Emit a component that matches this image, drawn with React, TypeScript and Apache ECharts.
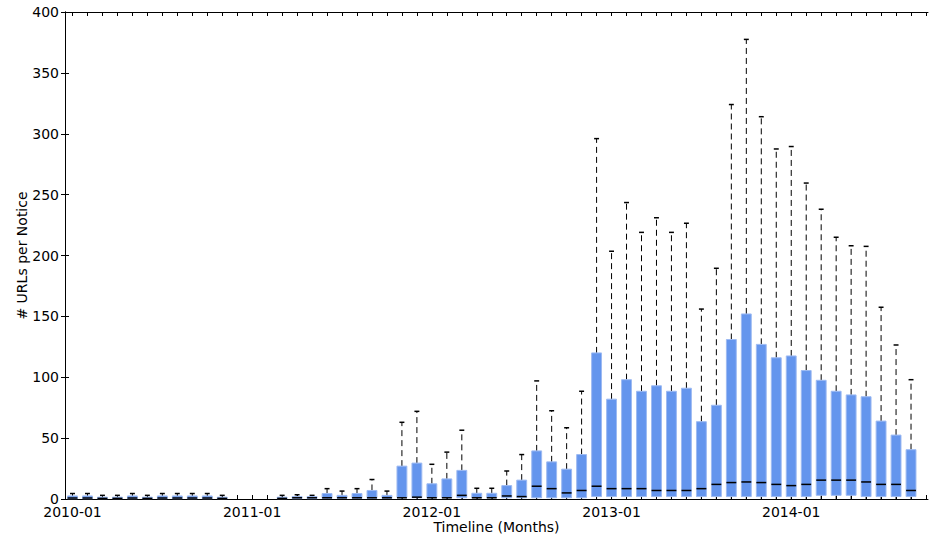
import React, { useEffect, useRef } from "react";
import * as echarts from "echarts";

// Month index 0 = 2010-01 ... 56 = 2014-09 (null = no notices that month)
const startYear = 2010;
const yTicks = [0, 50, 100, 150, 200, 250, 300, 350, 400];

const whiskerMax: (number | null)[] = [
  4.5, 4.5, 3, 3, 4.5, 3, 4.5, 4.5, 4.5, 4.5, 3, null,
  null, null, 3, 3.5, 3, 8.5, 6.5, 8.5, 16, 6.5, 63, 72,
  28.5, 38.5, 56.5, 8.8, 8.8, 23, 36.5, 97, 72.5, 58.5, 88.5, 296,
  203.5, 243.5, 219, 231, 219, 226.5, 156, 189.5, 324, 377.5, 314, 287.5,
  289.5, 259.5, 238, 215, 208, 207.5, 157.5, 126.5, 98,
];
const q3Values: (number | null)[] = [
  2.5, 2.5, 1.5, 1.5, 2.5, 1.5, 2.5, 2.5, 2.5, 2.5, 1.5, null,
  null, null, 1.5, 2, 2, 4.5, 3, 4.5, 7, 3, 27, 29.5,
  12.5, 16.5, 23.5, 4.7, 4.7, 11, 15.5, 39.5, 30.5, 24.5, 36.5, 120,
  82, 98, 88.5, 93, 88.5, 91, 63.5, 77, 131, 152, 127, 116,
  117.5, 105.5, 97.5, 88.5, 85.5, 84, 64, 52.5, 40.5,
];
const medianValues: (number | null)[] = [
  0.8, 0.8, 0.5, 0.5, 0.8, 0.5, 0.8, 0.8, 0.8, 0.8, 0.5, null,
  null, null, 0.5, 1, 1, 1, 1, 1, 1, 1, 1, 1.5,
  1, 1, 3, 1, 1, 2.5, 2, 10.5, 8.5, 5, 7, 10.5,
  8.5, 8.5, 8.5, 7, 7, 7, 8.5, 12, 13.5, 14, 13.5, 12,
  11, 12, 15.5, 15.5, 15.5, 14, 12, 12, 7,
];
const q1Values: (number | null)[] = [
  0.3, 0.3, 0.3, 0.3, 0.3, 0.3, 0.3, 0.3, 0.3, 0.3, 0.3, null,
  null, null, 0.3, 0.3, 0.3, 0.5, 0.5, 0.5, 0.5, 0.5, 1, 1,
  1, 1, 1, 1, 1, 1, 1, 1, 1, 1, 1, 2,
  2, 2, 2, 2, 2, 2, 2, 2, 2, 2, 2, 2,
  2, 2, 3, 3, 3, 2, 2, 2, 2,
];
const whiskerMin: (number | null)[] = [
  0, 0, 0, 0, 0, 0, 0, 0, 0, 0, 0, null,
  null, null, 0, 0, 0, 0, 0, 0, 0, 0, 0, 0,
  0, 0, 0, 0, 0, 0, 0, 0, 0, 0, 0, 0,
  0, 0, 0, 0, 0, 0, 0, 0, 0, 0, 0, 0,
  0, 0, 0, 0, 0, 0, 0, 0, 0,
];

const FONT = "DejaVu Sans";
const BOX_W = 0.66;

export default function App() {
  const ref = useRef<HTMLDivElement>(null);

  useEffect(() => {
    document.body.style.margin = "0";
    if (!ref.current) return;
    const chart = echarts.init(ref.current, undefined, { renderer: "svg" });

    const data: number[][] = [];
    for (let i = 0; i < whiskerMax.length; i++) {
      if (whiskerMax[i] == null) continue;
      data.push([
        i,
        whiskerMin[i] as number,
        q1Values[i] as number,
        medianValues[i] as number,
        q3Values[i] as number,
        whiskerMax[i] as number,
      ]);
    }

    const lineAxis = (position: "bottom" | "top") => ({
      type: "value" as const,
      gridIndex: 0,
      position,
      min: 0,
      max: 1,
      axisLine: { show: true, onZero: false, lineStyle: { color: "#000", width: 1 } },
      axisTick: { show: false },
      axisLabel: { show: false },
      splitLine: { show: false },
    });

    const tickAxis = (position: "bottom" | "top") => ({
      type: "value" as const,
      gridIndex: 1,
      position,
      min: 0,
      max: 57,
      interval: 1,
      axisLine: { show: false },
      axisTick: { show: true, inside: true, length: 4, lineStyle: { color: "#000", width: 1 } },
      axisLabel: {
        show: position === "bottom",
        margin: 6,
        color: "#000",
        fontSize: 14,
        fontFamily: FONT,
        formatter: (v: number) =>
          v % 12 === 0 && v < 57 ? `${startYear + v / 12}-01` : "",
      },
      splitLine: { show: false },
    });

    chart.setOption({
      animation: false,
      backgroundColor: "#fff",
      grid: [
        { left: 65, right: 1, top: 12, bottom: 43 },
        { left: 72.5, right: 1, top: 12, bottom: 43 },
      ],
      xAxis: [
        {
          ...lineAxis("bottom"),
          name: "Timeline (Months)",
          nameLocation: "middle",
          nameGap: 21,
          nameMoveOverlap: false,
          nameTextStyle: { color: "#000", fontSize: 14, fontFamily: FONT },
        },
        lineAxis("top"),
        tickAxis("bottom"),
        tickAxis("top"),
      ],
      yAxis: [
        {
          type: "value",
          gridIndex: 0,
          position: "left",
          min: yTicks[0],
          max: yTicks[yTicks.length - 1],
          interval: 50,
          name: "# URLs per Notice",
          nameLocation: "middle",
          nameGap: 36,
          nameMoveOverlap: false,
          nameTextStyle: { color: "#000", fontSize: 14, fontFamily: FONT },
          axisLine: { show: true, lineStyle: { color: "#000", width: 1 } },
          axisTick: { show: true, inside: true, length: 4, lineStyle: { color: "#000" } },
          axisLabel: { color: "#000", fontSize: 14, fontFamily: FONT, margin: 6 },
          splitLine: { show: false },
        },
        {
          type: "value",
          gridIndex: 0,
          position: "right",
          min: 0,
          max: 400,
          interval: 50,
          axisLine: { show: true, lineStyle: { color: "#000", width: 1 } },
          axisTick: { show: true, inside: true, length: 4, lineStyle: { color: "#000" } },
          axisLabel: { show: false },
          splitLine: { show: false },
        },
        {
          type: "value",
          gridIndex: 1,
          min: 0,
          max: 400,
          show: false,
          splitLine: { show: false },
        },
      ],
      series: [
        {
          type: "custom",
          xAxisIndex: 2,
          yAxisIndex: 2,
          encode: { x: 0, y: [1, 2, 3, 4, 5] },
          data,
          renderItem: (params: any, api: any) => {
            const x = api.value(0);
            const pMin = api.coord([x, api.value(1)]);
            const pQ1 = api.coord([x, api.value(2)]);
            const pMed = api.coord([x, api.value(3)]);
            const pQ3 = api.coord([x, api.value(4)]);
            const pMax = api.coord([x, api.value(5)]);
            const w = api.size([BOX_W, 0])[0];
            const cx = pQ1[0];
            const dashStyle = { stroke: "#000", lineWidth: 1, lineDash: [6, 4] };
            const capStyle = { stroke: "#000", lineWidth: 1.5 };
            return {
              type: "group",
              children: [
                {
                  type: "line",
                  shape: { x1: cx, y1: pQ3[1], x2: cx, y2: pMax[1] },
                  style: dashStyle,
                },
                {
                  type: "line",
                  shape: { x1: cx, y1: pQ1[1], x2: cx, y2: pMin[1] },
                  style: dashStyle,
                },
                {
                  type: "line",
                  shape: { x1: cx - w / 4, y1: pMax[1], x2: cx + w / 4, y2: pMax[1] },
                  style: capStyle,
                },
                {
                  type: "rect",
                  shape: { x: cx - w / 2, y: pQ3[1], width: w, height: pQ1[1] - pQ3[1] },
                  style: { fill: "#6495ED", stroke: "#9dbaf2", lineWidth: 1 },
                },
                {
                  type: "line",
                  shape: { x1: cx - w / 2, y1: pMed[1], x2: cx + w / 2, y2: pMed[1] },
                  style: { stroke: "#000", lineWidth: 1.5 },
                },
              ],
            };
          },
        },
      ],
    });

    return () => chart.dispose();
  }, []);

  return <div ref={ref} style={{ width: 929, height: 542 }} />;
}
